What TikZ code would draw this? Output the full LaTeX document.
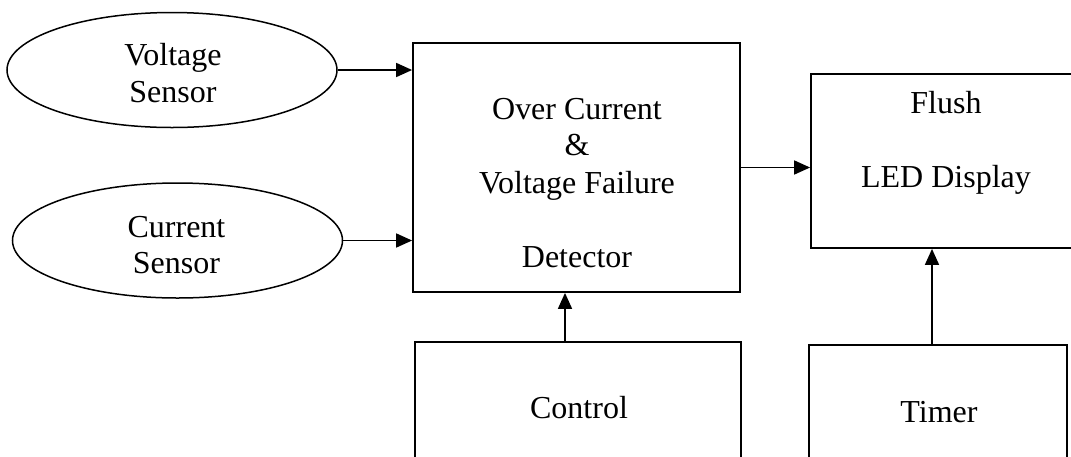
\documentclass[tikz,border=0pt]{standalone}
\usepackage{fontspec}
\setmainfont{Liberation Serif}
\usetikzlibrary{arrows.meta,shapes.geometric}
\begin{document}
\begin{tikzpicture}[x=1pt,y=-1pt,
  blockbox/.style={draw,line width=1.8pt,rectangle,inner sep=0pt},
  sensor/.style={draw,line width=1.5pt,ellipse,inner sep=0pt,minimum width=330pt,minimum height=115pt},
  txt/.style={anchor=base,inner sep=0pt,font=\fontsize{32}{37}\selectfont},
  arr/.style={line width=1.7pt,-{Triangle[length=16pt,width=14pt]}}]
\useasboundingbox (0,0) rectangle (1071,456);

% sensors
\node[sensor] (vs) at (172,70) {};
\node[sensor] (cs) at (177.5,240.5) {};

% blocks
\node[blockbox,minimum width=327pt,minimum height=249pt] (det) at (576.5,167.5) {};
\node[blockbox,minimum width=264pt,minimum height=174pt] (fl) at (943,161) {};
\node[blockbox,minimum width=326pt,minimum height=128pt] (ctl) at (578,406) {};
\node[blockbox,minimum width=258pt,minimum height=125pt] (tim) at (938,407.5) {};

% labels
\node[txt] (vs1) at (173,65) {Voltage};
\node[txt] (vs2) at (173,102) {Sensor};
\node[txt] (cs1) at (176.5,237) {Current};
\node[txt] (cs2) at (176.5,273) {Sensor};
\node[txt] (det1) at (577,119) {Over Current};
\node[txt] (det2) at (577,155) {\&};
\node[txt] (det3) at (577,193) {Voltage Failure};
\node[txt] (det4) at (577,267) {Detector};
\node[txt] (fl1) at (946,113) {Flush};
\node[txt] (fl2) at (946,187) {LED Display};
\node[txt] (ctl1) at (579,418) {Control};
\node[txt] (tim1) at (939,422) {Timer};

% connectors
\coordinate (cx) at (565,0);
\coordinate (tx) at (932,0);
\draw[arr] (vs.east) -- (vs.east -| det.west);
\draw[arr] (cs.east) -- (cs.east -| det.west);
\draw[arr] (det.east) -- (det.east -| fl.west);
\draw[arr] (ctl.north -| cx) -- (det.south -| cx);
\draw[arr] (tim.north -| tx) -- (fl.south -| tx);
\end{tikzpicture}
\end{document}
